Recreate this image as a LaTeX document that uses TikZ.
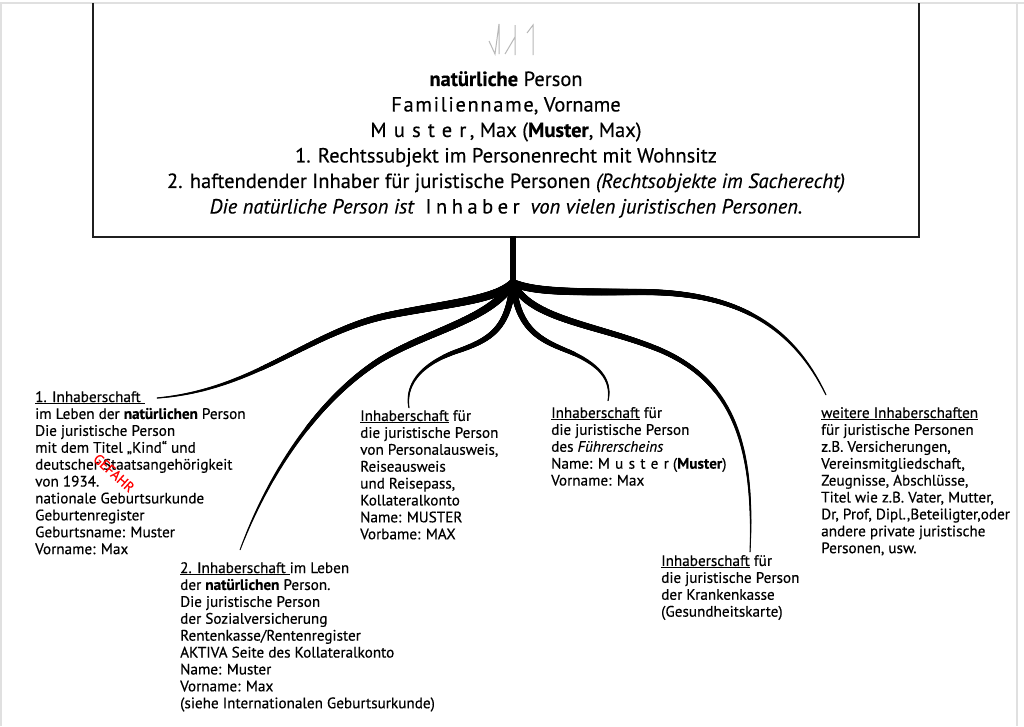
\documentclass[tikz,border=0pt]{standalone}
\usepackage{fontspec}
\setmainfont{PT Sans}[FakeBold=0.35]
\usetikzlibrary{decorations.markings}
\newcommand\lsp[2][35]{{\addfontfeature{LetterSpace=#1}#2}}
\tikzset{
  taper/.style n args={3}{postaction={decorate,decoration={markings,
     mark=between positions 0 and 1 step 0.5pt with {
        \pgfmathsetmacro\rr{#2+(#1-#2)*(1-(\pgfkeysvalueof{/pgf/decoration/mark info/distance from start}/\pgfdecoratedpathlength)^#3)}
        \fill[black] (0,0) circle (\rr pt);}}}},
  blocktext/.style={font=\fontsize{15.2}{16.9}\selectfont, align=left, inner sep=0pt, anchor=north west},
  toptext/.style={font=\fontsize{20.5}{25.5}\selectfont, align=center, inner sep=0pt, anchor=north},
  frameline/.style={draw=black!12, line width=1.2pt},
  logo/.style={draw=black!28, line width=1pt},
}
\begin{document}
\begin{tikzpicture}[x=1pt,y=-1pt]
\useasboundingbox[fill=white] (0,0) rectangle (1024,726);
% faint page frame
\draw[frameline] (0,3) -- (1024,3);
\draw[frameline] (1,3) -- (1,726);
\draw[frameline] (1017,3) -- (1017,726);
% main box
\node[minimum width=826pt, minimum height=234pt, inner sep=0pt] (box) at (506,120) {};
\draw[line width=2pt, black!88] (box.north west) |- (box.south east) -- (box.north east);
% logo
\draw[logo] (489,41) -- (495,54) -- (499,24) -- (499,54);
\draw[logo] (505,54) -- (515,37) (515,25) -- (515,55);
\draw[logo] (527,33) -- (533,25) -- (533,55);
\node[toptext] (ptext) at (506,71) {\textbf{natürliche} Person\\
{\addfontfeature{LetterSpace=8}Familienname}, Vorname\\
\lsp{Muster}\,, Max (\textbf{Muster}, Max)\\
1. Rechtssubjekt im Personenrecht mit Wohnsitz\\
2. haftendender Inhaber für juristische Personen \textit{(Rechtsobjekte im Sacherecht)}\\
\textit{Die natürliche Person ist}\ \ \lsp[22]{Inhaber}\ \ \textit{von vielen juristischen Personen.}};
% text blocks
\node[blocktext] (b1) at (35,391) {\underline{1. Inhaberschaft\ }\\
im Leben der \textbf{natürlichen} Person\\
Die juristische Person\\
mit dem Titel „Kind“ und\\
deutscher Staatsangehörigkeit\\
von 1934.\\
nationale Geburtsurkunde\\
Geburtenregister\\
Geburtsname: Muster\\
Vorname: Max};
\node[blocktext] (b2) at (180,562) {\underline{2. Inhaberschaft\ }im Leben\\
der \textbf{natürlichen} Person.\\
Die juristische Person\\
der Sozialversicherung\\
Rentenkasse/Rentenregister\\
AKTIVA Seite des Kollateralkonto\\
Name: Muster\\
Vorname: Max\\
(siehe Internationalen Geburtsurkunde)};
\node[blocktext] (b3) at (360,410) {\underline{Inhaberschaft} für\\
die juristische Person\\
von Personalausweis,\\
Reiseausweis\\
und Reisepass,\\
Kollateralkonto\\
Name: MUSTER\\
Vorbame: MAX};
\node[blocktext] (b4) at (551,407) {\underline{Inhaberschaft} für\\
die juristische Person\\
des \textit{Führerscheins}\\
Name: \lsp{Muster} (\textbf{Muster})\\
Vorname: Max};
\node[blocktext] (b5) at (661,555) {\underline{Inhaberschaft} für\\
die juristische Person\\
der Krankenkasse\\
(Gesundheitskarte)};
\node[blocktext] (b6) at (821,407) {\underline{weitere Inhaberschaften}\\
für juristische Personen\\
z.B. Versicherungen,\\
Vereinsmitgliedschaft,\\
Zeugnisse, Abschlüsse,\\
Titel wie z.B. Vater, Mutter,\\
Dr, Prof, Dipl.,Beteiligter,oder\\
andere private juristische\\
Personen, usw.};
\node[text=red, rotate=-42, font=\fontsize{14}{14}\selectfont, inner sep=0pt] (warn) at (114,473) {GEFAHR};
% roots
\coordinate (T) at (513,236);
\coordinate (J) at (513,283);
\coordinate (tA) at (157,398);
\coordinate (tB) at (240,550);
\coordinate (tC) at (409,408);
\coordinate (tD) at (608,401);
\coordinate (tE) at (750,552);
\coordinate (tF) at (826,395);
\draw[line width=5.5pt] (T) -- (J);
\path[taper={4.2}{0.6}{1.4}] (J) .. controls (495,300) and (450,303) .. (390,315) .. controls (310,331) and (255,390) .. (tA);
\path[taper={3.9}{0.5}{1.3}] (J) .. controls (490,320) and (430,330) .. (380,360) .. controls (320,398) and (270,470) .. (tB);
\path[taper={3.3}{0.6}{1.5}] (J) .. controls (508,330) and (490,340) .. (455,352) .. controls (420,365) and (405,385) .. (tC);
\path[taper={3.3}{0.6}{1.5}] (J) .. controls (518,330) and (540,340) .. (570,352) .. controls (600,365) and (612,380) .. (tD);
\path[taper={3.6}{0.5}{1.2}] (J) .. controls (530,320) and (600,325) .. (660,350) .. controls (730,380) and (755,440) .. (tE);
\path[taper={3.9}{0.6}{1.4}] (J) .. controls (535,292) and (570,292) .. (640,292) .. controls (730,292) and (790,320) .. (tF);
\end{tikzpicture}
\end{document}
